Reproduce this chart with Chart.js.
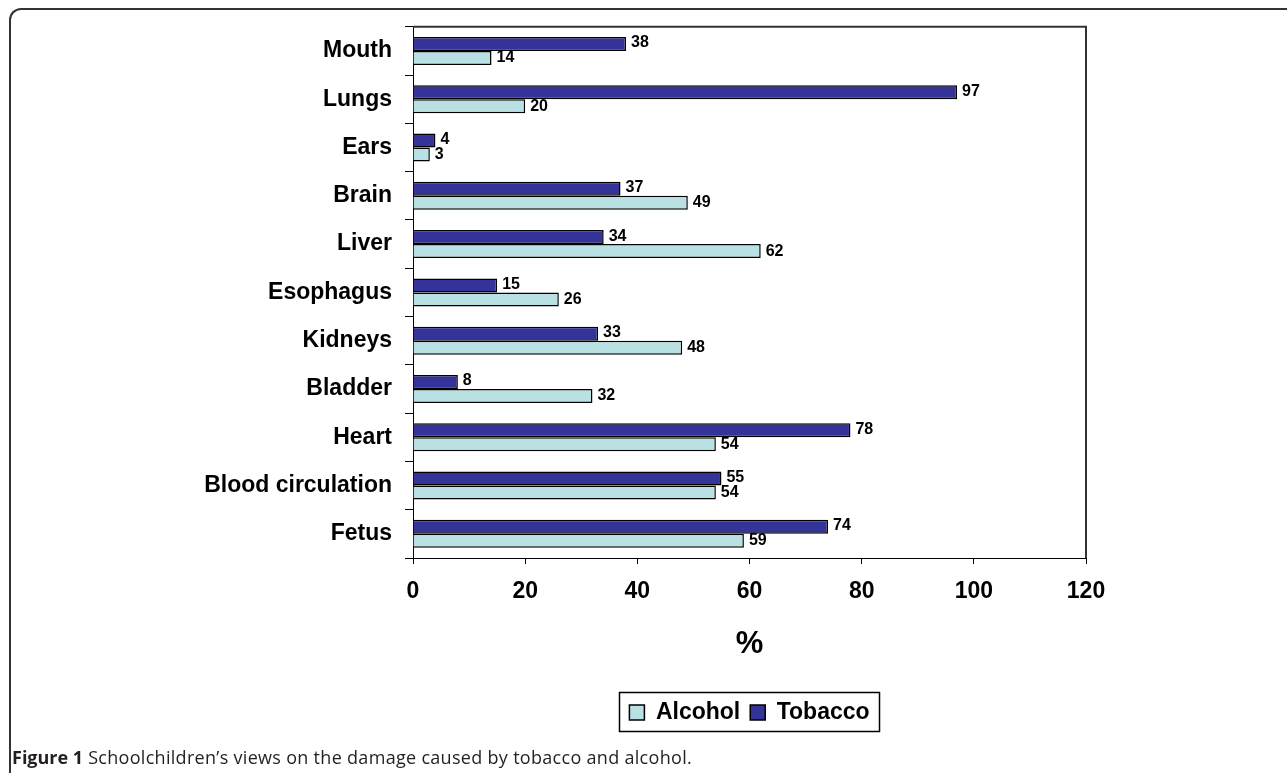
<!DOCTYPE html>
<html>
<head>
<meta charset="utf-8">
<script src="https://cdn.jsdelivr.net/npm/chart.js@4.4.0/dist/chart.umd.min.js"></script>
<style>
  html, body { margin: 0; padding: 0; background: #fff; width: 1287px; height: 773px; overflow: hidden; }
  #frame { position: absolute; left: 9px; top: 8px; width: 1290px; height: 780px;
           border-top: 2px solid #333; border-left: 2px solid #333; border-top-left-radius: 12px; box-sizing: border-box; }
  #wrap { position: absolute; left: 0; top: 0; width: 1287px; height: 773px; }
  #caption { position: absolute; left: 12px; top: 745px; font-family: "Open Sans", "Noto Sans", sans-serif;
             font-size: 18px; letter-spacing: 0.3px; color: #231f20; white-space: nowrap; }
  #caption b { font-weight: 700; letter-spacing: 0; }
</style>
</head>
<body>
<div id="frame"></div>
<div id="wrap"><canvas id="c" width="1287" height="773"></canvas></div>
<div id="caption"><b>Figure 1</b> Schoolchildren’s views on the damage caused by tobacco and alcohol.</div>
<script>
const categories = ["Mouth", "Lungs", "Ears", "Brain", "Liver", "Esophagus", "Kidneys", "Bladder", "Heart", "Blood circulation", "Fetus"];
const tobacco = [38, 97, 4, 37, 34, 15, 33, 8, 78, 55, 74];
const alcohol = [14, 20, 3, 49, 62, 26, 48, 32, 54, 54, 59];
const xTicks = [0, 20, 40, 60, 80, 100, 120];

const FONT = '"Liberation Sans", Arial, Helvetica, sans-serif';

const valueLabels = {
  id: 'valueLabels',
  afterDatasetsDraw(chart) {
    const ctx = chart.ctx;
    ctx.save();
    ctx.font = 'bold 16px ' + FONT;
    ctx.fillStyle = '#000';
    ctx.textBaseline = 'middle';
    ctx.textAlign = 'left';
    chart.data.datasets.forEach((ds, di) => {
      const meta = chart.getDatasetMeta(di);
      meta.data.forEach((bar, i) => {
        ctx.fillText(String(ds.data[i]), bar.x + 5, bar.y - (di === 0 ? 1 : 0));
      });
    });
    ctx.restore();
  }
};

const plotFrame = {
  id: 'plotFrame',
  afterDraw(chart) {
    const ctx = chart.ctx;
    const a = chart.chartArea;
    ctx.save();
    ctx.strokeStyle = '#333';
    ctx.lineWidth = 2;
    ctx.beginPath();
    ctx.moveTo(a.left, a.top);
    ctx.lineTo(a.right, a.top);
    ctx.lineTo(a.right, a.bottom);
    ctx.stroke();
    // legend border
    const lg = chart.legend;
    if (lg && lg.legendHitBoxes && lg.legendHitBoxes.length) {
      let minX = Infinity, maxX = -Infinity, minY = Infinity, maxY = -Infinity;
      lg.legendHitBoxes.forEach(h => {
        minX = Math.min(minX, h.left); maxX = Math.max(maxX, h.left + h.width);
        minY = Math.min(minY, h.top); maxY = Math.max(maxY, h.top + h.height);
      });
      ctx.strokeStyle = '#000';
      ctx.lineWidth = 1.5;
      ctx.strokeRect(Math.round(minX - 10) + 0.5, Math.round(minY - 9) + 0.5, Math.round(maxX - minX + 20), Math.round(maxY - minY + 16));
    }
    ctx.restore();
  }
};

new Chart(document.getElementById('c'), {
  type: 'bar',
  data: {
    labels: categories,
    datasets: [
      { label: 'Tobacco', data: tobacco, backgroundColor: '#333399', borderColor: '#000', borderWidth: 1.5,
        categoryPercentage: 0.58, barPercentage: 1.0 },
      { label: 'Alcohol', data: alcohol, backgroundColor: '#b9e1e3', borderColor: '#000', borderWidth: 1.5,
        categoryPercentage: 0.58, barPercentage: 1.0 }
    ]
  },
  options: {
    indexAxis: 'y',
    responsive: false,
    animation: false,
    devicePixelRatio: 1,
    layout: { padding: { top: 25, right: 201, bottom: 39, left: 0 } },
    scales: {
      y: {
        grid: { display: true, drawOnChartArea: false, offset: true, tickLength: 8, color: '#000', lineWidth: 1 },
        border: { display: true, color: '#000', width: 1 },
        ticks: { color: '#000', font: { family: FONT, size: 23, weight: 'bold' }, padding: 13 },
        afterFit(scale) { scale.width = 413; }
      },
      x: {
        min: 0, max: 120,
        afterBuildTicks(scale) { scale.ticks = xTicks.map(v => ({ value: v })); },
        grid: { display: true, drawOnChartArea: false, tickLength: 6, color: '#000', lineWidth: 1 },
        border: { display: true, color: '#000', width: 1 },
        ticks: { color: '#000', font: { family: FONT, size: 23, weight: 'bold' }, padding: 14, maxRotation: 0 },
        title: { display: true, text: '%', color: '#000', font: { family: FONT, size: 31, weight: 'bold' },
                 padding: { top: 0, bottom: 28 } },
        afterFit(scale) { scale.height = 133; }
      }
    },
    plugins: {
      legend: {
        position: 'bottom',
        fullSize: false,
        reverse: true,
        labels: { color: '#000', font: { family: FONT, size: 23, weight: 'bold' }, boxWidth: 15, boxHeight: 15, padding: 10 }
      },
      tooltip: { enabled: false }
    }
  },
  plugins: [valueLabels, plotFrame]
});
</script>
</body>
</html>
